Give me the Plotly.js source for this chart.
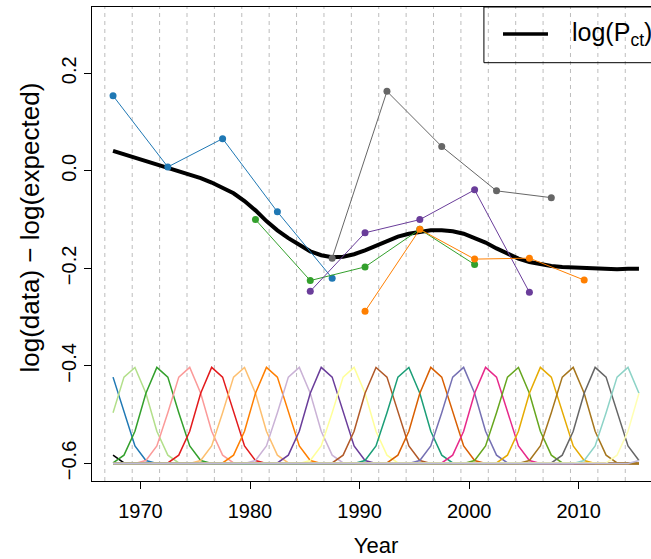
<!DOCTYPE html>
<html><head><meta charset="utf-8">
<script src="https://cdn.plot.ly/plotly-3.0.1.min.js"></script>
<style>html,body{margin:0;padding:0;overflow:hidden;background:#fff}#chart{width:661px;height:559px}</style>
</head><body><div id="chart"></div>
<script>
// yearly evaluation points of the smooth and the basis functions
const sampleYears = [1967.5,1968.5,1969.5,1970.5,1971.5,1972.5,1973.5,1974.5,1975.5,1976.5,
  1977.5,1978.5,1979.5,1980.5,1981.5,1982.5,1983.5,1984.5,1985.5,1986.5,
  1987.5,1988.5,1989.5,1990.5,1991.5,1992.5,1993.5,1994.5,1995.5,1996.5,
  1997.5,1998.5,1999.5,2000.5,2001.5,2002.5,2003.5,2004.5,2005.5,2006.5,
  2007.5,2008.5,2009.5,2010.5,2011.5,2012.5,2013.5,2014.5,2015.5];
// log(P_ct) smooth
const pctValues = [0.041,0.034,0.027,0.020,0.014,0.007,0.000,-0.007,-0.015,-0.024,
  -0.034,-0.046,-0.062,-0.081,-0.103,-0.122,-0.138,-0.152,-0.165,-0.173,
  -0.177,-0.176,-0.171,-0.163,-0.154,-0.143,-0.135,-0.129,-0.125,-0.122,
  -0.122,-0.124,-0.129,-0.137,-0.147,-0.159,-0.170,-0.180,-0.187,-0.192,
  -0.195,-0.197,-0.198,-0.199,-0.201,-0.203,-0.202,-0.201,-0.201];

// cohort series
const blueYears = [1967.5,1972.5,1977.5,1982.5,1987.5];
const blueValues = [0.154,0.008,0.066,-0.084,-0.220];
const greenYears = [1980.5,1985.5,1990.5,1995.5,2000.5];
const greenValues = [-0.100,-0.225,-0.197,-0.120,-0.192];
const purpleYears = [1985.5,1990.5,1995.5,2000.5,2005.5];
const purpleValues = [-0.247,-0.127,-0.100,-0.039,-0.249];
const grayYears = [1987.5,1992.5,1997.5,2002.5,2007.5];
const grayValues = [-0.179,0.163,0.050,-0.041,-0.055];
const orangeYears = [1990.5,1995.5,2000.5,2005.5,2010.5];
const orangeValues = [-0.288,-0.120,-0.181,-0.179,-0.224];

// knots (dashed verticals)
const knotYears = [1966.75,1969.25,1971.75,1974.25,1976.75,1979.25,1981.75,1984.25,1986.75,1989.25,
  1991.75,1994.25,1996.75,1999.25,2001.75,2004.25,2006.75,2009.25,2011.75,2014.25,2016.75];
// basis function centres and colours
const basisCenters = [1964.25,1966.75,1969.25,1971.75,1974.25,1976.75,1979.25,1981.75,1984.25,1986.75,
  1989.25,1991.75,1994.25,1996.75,1999.25,2001.75,2004.25,2006.75,2009.25,2011.75,2014.25,2016.75,2019.25];
const basisColors = ['#000000','#1F78B4','#B2DF8A','#33A02C','#FB9A99','#E31A1C','#FDBF6F','#FF7F00',
  '#CAB2D6','#6A3D9A','#FFFF99','#B15928','#1B9E77','#D95F02','#7570B3','#E7298A','#66A61E','#E6AB02',
  '#A6761D','#666666','#8DD3C7','#FFFFB3','#BEBADA'];
// height of a basis curve above its baseline at distance 0.25, 0.75, 1.25 ... years from its centre
const basisProfile = [0.197,0.177,0.144,0.104,0.066,0.036,0.017,0.006,0.001,0.0];
const basisBaseline = -0.6;

const xTicks = [1970,1980,1990,2000,2010];
const yTicks = [-0.6,-0.4,-0.2,0.0,0.2];
const yTickText = ['\u22120.6','\u22120.4','\u22120.2','0.0','0.2'];

const FONT = 'Liberation Sans, Arial, Helvetica, sans-serif';
const traces = [];
basisCenters.forEach((c, j) => {
  const ys = sampleYears.map(s => {
    const idx = Math.round((Math.abs(s - c) - 0.25) / 0.5);
    return basisBaseline + (idx < basisProfile.length ? basisProfile[idx] : 0);
  });
  traces.push({x: sampleYears, y: ys, type: 'scatter', mode: 'lines',
    line: {color: basisColors[j], width: 1.5}, hoverinfo: 'skip', showlegend: false});
});
traces.push({x: sampleYears, y: pctValues, type: 'scatter', mode: 'lines', name: 'log(P<sub>ct</sub>)',
  line: {color: '#000000', width: 4}, showlegend: false});
const cohorts = [
  [blueYears, blueValues, '#1F78B4'],
  [greenYears, greenValues, '#33A02C'],
  [purpleYears, purpleValues, '#6A3D9A'],
  [grayYears, grayValues, '#666666'],
  [orangeYears, orangeValues, '#FF7F00']
];
cohorts.forEach(([xs, ys, col]) => {
  traces.push({x: xs, y: ys, type: 'scatter', mode: 'lines+markers',
    line: {color: col, width: 1}, marker: {color: col, size: 7}, showlegend: false});
});

const shapes = knotYears.map(k => ({type: 'line', xref: 'x', yref: 'paper', x0: k, x1: k, y0: 0, y1: 1,
  line: {color: '#bdbdbd', width: 1, dash: '4px,4px'}, layer: 'below'}));
// legend box and key
shapes.push({type: 'rect', xref: 'paper', yref: 'paper', x0: 0.690, x1: 1.0, y0: 0.8825, y1: 1.0,
  line: {color: '#000000', width: 1}, fillcolor: 'rgba(0,0,0,0)'});
shapes.push({type: 'line', xref: 'paper', yref: 'paper', x0: 0.7236, x1: 0.8028, y0: 0.943, y1: 0.943,
  line: {color: '#000000', width: 3.5}});

const layout = {
  width: 661, height: 559,
  margin: {l: 92, r: 1, t: 7, b: 78},
  paper_bgcolor: '#ffffff', plot_bgcolor: '#ffffff',
  showlegend: false,
  font: {family: FONT, color: '#000000'},
  xaxis: {range: [1965.58, 2017.42], tickvals: xTicks, ticks: 'outside', ticklen: 7, tickcolor: '#000',
    showline: true, mirror: true, linecolor: '#000', linewidth: 1, showgrid: false, zeroline: false,
    ticklabelstandoff: 5,
    tickfont: {size: 20, family: FONT}, title: {text: 'Year', font: {size: 22, family: FONT}, standoff: 16}},
  yaxis: {range: [-0.636, 0.336], tickvals: yTicks, ticktext: yTickText, tickangle: -90, ticks: 'outside',
    ticklen: 7, tickcolor: '#000', showline: true, mirror: true, linecolor: '#000', linewidth: 1,
    showgrid: false, zeroline: false, tickfont: {size: 20, family: FONT}},
  shapes: shapes,
  annotations: [
    {xref: 'paper', yref: 'paper', x: -0.109, y: 0.535, xanchor: 'center', yanchor: 'middle', textangle: -90,
     text: 'log(data) \u2212 log(expected)', showarrow: false, font: {size: 26, family: FONT, color: '#000'}},
    {xref: 'paper', yref: 'paper', x: 0.8415, y: 0.943, xanchor: 'left', yanchor: 'middle',
     text: 'log(P<sub>ct</sub>)', showarrow: false, font: {size: 25, family: FONT, color: '#000'}}]
};
Plotly.newPlot('chart', traces, layout, {displayModeBar: false, staticPlot: true});
</script></body></html>
